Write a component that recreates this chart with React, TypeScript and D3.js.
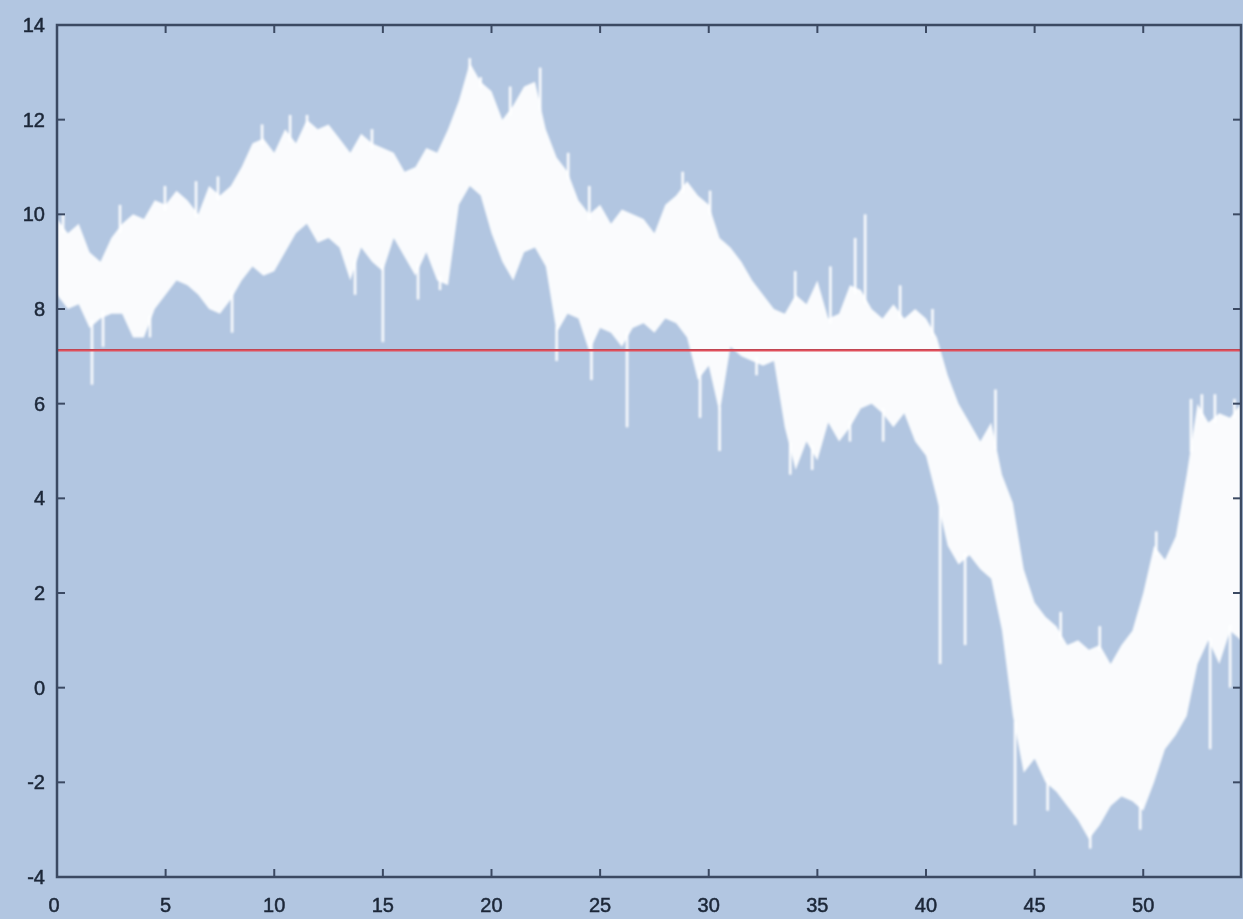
import React from "react";
import * as d3 from "d3";

// Envelope of the dense noisy signal, sampled every 0.5 on the x axis (x = 0 .. 54.5)
const bandHigh = [
  9.9, 9.6, 9.8, 9.2, 9.0, 9.5, 9.8, 10.0, 9.9, 10.3,
  10.2, 10.5, 10.3, 10.0, 10.6, 10.4, 10.6, 11.0, 11.5, 11.6,
  11.3, 11.8, 11.5, 12.0, 11.8, 11.9, 11.6, 11.3, 11.7, 11.5,
  11.4, 11.3, 10.9, 11.0, 11.4, 11.3, 11.8, 12.4, 13.2, 12.8,
  12.6, 12.0, 12.3, 12.7, 12.8, 11.8, 11.2, 10.9, 10.3, 10.0,
  10.2, 9.8, 10.1, 10.0, 9.9, 9.6, 10.2, 10.4, 10.7, 10.4,
  10.2, 9.5, 9.3, 9.0, 8.6, 8.3, 8.0, 7.9, 8.3, 8.1,
  8.6, 7.8, 7.9, 8.5, 8.4, 8.0, 7.8, 8.1, 7.8, 8.0,
  7.8, 7.4, 6.6, 6.0, 5.6, 5.2, 5.6, 4.5, 3.9, 2.5,
  1.8, 1.5, 1.3, 0.9, 1.0, 0.8, 0.9, 0.5, 0.9, 1.2,
  2.0, 3.0, 2.7, 3.2, 4.5, 6.0, 5.6, 5.8, 5.7, 6.0,
];
const bandLow = [
  8.3, 8.0, 8.1, 7.6, 7.8, 7.9, 7.9, 7.4, 7.4, 8.0,
  8.3, 8.6, 8.5, 8.3, 8.0, 7.9, 8.2, 8.6, 8.9, 8.7,
  8.8, 9.2, 9.6, 9.8, 9.4, 9.5, 9.3, 8.6, 9.3, 9.0,
  8.8, 9.5, 9.1, 8.7, 9.2, 8.6, 8.5, 10.2, 10.6, 10.4,
  9.6, 9.0, 8.6, 9.2, 9.3, 8.9, 7.5, 7.9, 7.8, 7.1,
  7.6, 7.5, 7.2, 7.6, 7.7, 7.5, 7.8, 7.7, 7.4, 6.5,
  6.8, 5.8, 7.2, 7.0, 6.9, 6.8, 6.9, 5.5, 4.6, 5.2,
  4.8, 5.6, 5.2, 5.5, 5.9, 6.0, 5.8, 5.5, 5.8, 5.2,
  4.9, 4.0, 3.0, 2.6, 2.8, 2.5, 2.3, 1.2, -0.6, -1.8,
  -1.5, -2.0, -2.2, -2.5, -2.8, -3.2, -2.9, -2.5, -2.3, -2.4,
  -2.6, -2.0, -1.3, -1.0, -0.6, 0.5, 1.0, 0.5, 1.2, 1.0,
];
// Upward spikes above the band: position and peak value
const spikeUpX = [0.28, 2.9, 4.97, 6.4, 7.41, 9.44, 10.73, 11.51, 14.5, 19.0, 19.5, 20.86, 22.24, 23.53, 24.5, 28.8, 30.06, 33.98, 35.6, 36.74, 37.2, 38.81, 40.3, 43.2, 46.2, 48.0, 50.6, 52.2, 52.7, 53.3, 54.2];
const spikeUpV = [10.0, 10.2, 10.6, 10.7, 10.8, 11.9, 12.1, 12.1, 11.8, 13.3, 12.9, 12.7, 13.1, 11.3, 10.6, 10.9, 10.5, 8.8, 8.9, 9.5, 10.0, 8.5, 8.0, 6.3, 1.6, 1.3, 3.3, 6.1, 6.2, 6.2, 6.1];
// Downward spikes below the band: position and lowest value
const spikeDnX = [1.61, 2.12, 4.28, 8.06, 13.72, 15.0, 16.62, 17.63, 23.0, 24.6, 26.24, 29.6, 30.5, 32.2, 33.75, 34.76, 36.5, 38.03, 40.65, 41.8, 44.1, 45.6, 47.56, 49.86, 53.08, 54.0];
const spikeDnV = [6.4, 7.2, 7.4, 7.5, 8.3, 7.3, 8.2, 8.4, 6.9, 6.5, 5.5, 5.7, 5.0, 6.6, 4.5, 4.6, 5.2, 5.2, 0.5, 0.9, -2.9, -2.6, -3.4, -3.0, -1.3, 0.0];

const meanLevel = 7.13;
const xTicks = [0, 5, 10, 15, 20, 25, 30, 35, 40, 45, 50];
const yTicks = [-4, -2, 0, 2, 4, 6, 8, 10, 12, 14];

const W = 1243;
const H = 919;
const M = { left: 57, top: 25, right: 2, bottom: 42 };

export default function App() {
  const sampleX = d3.range(bandHigh.length).map((i) => i * 0.5);
  const x = d3.scaleLinear().domain([0, 54.5]).range([M.left, W - M.right]);
  const y = d3.scaleLinear().domain([-4, 14]).range([H - M.bottom, M.top]);

  const area = d3
    .area<number>()
    .x((_, i) => x(sampleX[i]))
    .y0((_, i) => y(bandLow[i]))
    .y1((_, i) => y(bandHigh[i]))
    .curve(d3.curveLinear);

  const hiAt = d3.scaleLinear().domain(sampleX).range(bandHigh);
  const loAt = d3.scaleLinear().domain(sampleX).range(bandLow);

  const axisColor = "#3b4962";
  const tickLen = 8;
  const x0 = M.left;
  const x1 = W - M.right;
  const y0 = H - M.bottom;
  const y1 = M.top;
  const labelStyle = {
    fontFamily: "Liberation Sans, Arial, sans-serif",
    fontSize: 20,
    fill: "#1c2738",
    stroke: "#1c2738",
    strokeWidth: 0.5,
  } as const;

  return (
    <div style={{ position: "fixed", left: 0, top: 0, width: W, height: H, background: "#b2c6e1" }}>
      <svg width={W} height={H} style={{ display: "block" }}>
        <defs>
          <clipPath id="plot">
            <rect x={x0} y={y1} width={x1 - x0} height={y0 - y1} />
          </clipPath>
          <filter id="soft" x="-5%" y="-5%" width="110%" height="110%">
            <feGaussianBlur stdDeviation="0.9" />
          </filter>
        </defs>
        <rect x={0} y={0} width={W} height={H} fill="#b2c6e1" />
        <g clipPath="url(#plot)">
          <g filter="url(#soft)">
            <path d={area(bandHigh) || ""} fill="#ffffff" fillOpacity={0.93} />
            {spikeUpX.map((sx, i) => (
              <line
                key={"u" + i}
                x1={x(sx)}
                x2={x(sx)}
                y1={y(hiAt(sx)) + 6}
                y2={y(spikeUpV[i])}
                stroke="#ffffff"
                strokeWidth={2.6}
                opacity={0.95}
              />
            ))}
            {spikeDnX.map((sx, i) => (
              <line
                key={"d" + i}
                x1={x(sx)}
                x2={x(sx)}
                y1={y(loAt(sx)) - 6}
                y2={y(spikeDnV[i])}
                stroke="#ffffff"
                strokeWidth={2.6}
                opacity={0.95}
              />
            ))}
          </g>
          <line x1={x0} x2={x1} y1={y(meanLevel)} y2={y(meanLevel)} stroke="#e0505c" strokeWidth={2.4} />
          <line x1={x0} x2={x1} y1={y(meanLevel) - 0.6} y2={y(meanLevel) - 0.6} stroke="#9a3a48" strokeWidth={0.8} opacity={0.6} />
        </g>
        {/* frame */}
        <rect x={x0} y={y1} width={x1 - x0} height={y0 - y1} fill="none" stroke={axisColor} strokeWidth={2.5} />
        {xTicks.map((t) => (
          <g key={"xt" + t}>
            <line x1={x(t)} x2={x(t)} y1={y0} y2={y0 - tickLen} stroke={axisColor} strokeWidth={2} />
            <line x1={x(t)} x2={x(t)} y1={y1} y2={y1 + tickLen} stroke={axisColor} strokeWidth={2} />
            <text x={x(t) - (t === 0 ? 3 : 0)} y={912} textAnchor="middle" {...labelStyle}>
              {t}
            </text>
          </g>
        ))}
        {yTicks.map((t) => (
          <g key={"yt" + t}>
            <line x1={x0} x2={x0 + tickLen} y1={y(t)} y2={y(t)} stroke={axisColor} strokeWidth={2} />
            <line x1={x1} x2={x1 - tickLen} y1={y(t)} y2={y(t)} stroke={axisColor} strokeWidth={2} />
            <text x={45} y={y(t)} dy="0.35em" textAnchor="end" {...labelStyle}>
              {t}
            </text>
          </g>
        ))}
      </svg>
    </div>
  );
}
